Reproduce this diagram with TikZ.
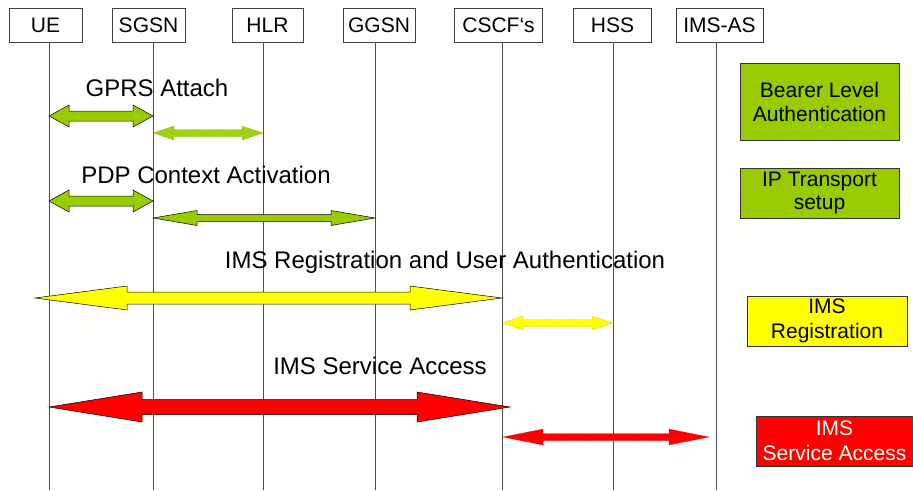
\documentclass[tikz,border=0pt]{standalone}
\usepackage{fontspec}
\setmainfont{Liberation Sans}
\usetikzlibrary{calc}
\definecolor{pgreen}{RGB}{153,204,0}
\definecolor{pgreenl}{RGB}{160,210,20}
\definecolor{pyellow}{RGB}{255,255,0}
\definecolor{pred}{RGB}{255,0,0}
\definecolor{lifegray}{RGB}{80,80,80}
% #1 style, #2 left end, #3 right end, #4 head length, #5 head half width, #6 shaft half width
\newcommand\blockarrow[6]{\path[#1] (#2) -- ($(#2)+(#4,-#5)$) -- ($(#2)+(#4,-#6)$) -- ($(#3)+(-#4,-#6)$) -- ($(#3)+(-#4,-#5)$) -- (#3) -- ($(#3)+(-#4,#5)$) -- ($(#3)+(-#4,#6)$) -- ($(#2)+(#4,#6)$) -- ($(#2)+(#4,#5)$) -- cycle;}
\tikzset{
  hbox/.style={draw=black!75, line width=0.6pt, fill=white, minimum height=34pt, inner sep=0pt},
  htxt/.style={inner sep=0pt, anchor=base, font=\fontsize{21}{24}\selectfont},
  life/.style={draw=lifegray, line width=0.8pt},
  lbl/.style={inner sep=0pt, anchor=base, font=\fontsize{24}{28}\selectfont},
  sbox/.style={draw=black!80, line width=0.6pt, inner sep=0pt, align=center, font=\fontsize{21}{24}\selectfont},
  solidarr/.style={draw=black, line width=0.5pt, line join=miter},
  dotarr/.style={line width=0.5pt, densely dotted},
}
\begin{document}
\begin{tikzpicture}[x=1pt,y=-1pt]
\useasboundingbox (0,0) rectangle (913,490);
% header boxes
\node[hbox, minimum width=73pt] (ue) at (45.5,25) {};
\node[hbox, minimum width=73pt] (sgsn) at (148.5,25) {};
\node[hbox, minimum width=71pt] (hlr) at (267.5,25) {};
\node[hbox, minimum width=72pt] (ggsn) at (379,25) {};
\node[hbox, minimum width=88pt] (cscf) at (498.5,25) {};
\node[hbox, minimum width=78pt] (hss) at (612.5,25) {};
\node[hbox, minimum width=87pt] (imsas) at (719.5,25) {};
% lifelines
\foreach \n/\x in {ue/49, sgsn/153, hlr/263, ggsn/375, cscf/502, hss/613, imsas/716}{
  \coordinate (\n T) at (\x,42);
  \coordinate (\n B) at (\x,490);
  \draw[life] (\n T) -- (\n B);
}
% header texts
\node[htxt] (ueL) at (45.5,32.5) {UE};
\node[htxt] (sgsnL) at (148.5,32.5) {SGSN};
\node[htxt] (hlrL) at (267.5,32.5) {HLR};
\node[htxt] (ggsnL) at (379,32.5) {GGSN};
\node[htxt] (cscfL) at (498.5,32.5) {CSCF‘s};
\node[htxt] (hssL) at (612.5,32.5) {HSS};
\node[htxt] (imsasL) at (719.5,32.5) {IMS-AS};
% arrow end points
\coordinate (g1a) at (49,116);  \coordinate (g1b) at (153,116);
\coordinate (g2a) at (153,133); \coordinate (g2b) at (263,133);
\coordinate (g3a) at (49,201);  \coordinate (g3b) at (153,201);
\coordinate (g4a) at (153,218); \coordinate (g4b) at (375,218);
\coordinate (y1a) at (35,298);  \coordinate (y1b) at (502,298);
\coordinate (y2a) at (502,323); \coordinate (y2b) at (613,323);
\coordinate (r1a) at (49,407);  \coordinate (r1b) at (510,407);
\coordinate (r2a) at (503,437); \coordinate (r2b) at (709,437);
% arrows
\blockarrow{solidarr, fill=pgreen}{g1a}{g1b}{20}{11}{5}
\blockarrow{dotarr, fill=pgreenl, draw=pgreen!80!black}{g2a}{g2b}{21}{7}{3.5}
\blockarrow{solidarr, fill=pgreen}{g3a}{g3b}{20}{11}{5}
\blockarrow{solidarr, fill=pgreen}{g4a}{g4b}{44}{7.5}{3.5}
\blockarrow{solidarr, fill=pyellow}{y1a}{y1b}{92}{12}{6}
\blockarrow{dotarr, fill=pyellow, draw=yellow!70!black}{y2a}{y2b}{21}{7}{3.5}
\blockarrow{solidarr, fill=pred}{r1a}{r1b}{93}{15}{7.5}
\blockarrow{dotarr, fill=pred, draw=red!80!black}{r2a}{r2b}{40}{8}{3.5}
% labels
\node[lbl] (gprs) at (157,96) {GPRS Attach};
\node[lbl] (pdp) at (206,183) {PDP Context Activation};
\node[lbl] (imsreg) at (445,268) {IMS Registration and User Authentication};
\node[lbl] (imssa) at (380,374) {IMS Service Access};
% side boxes
\node[sbox, fill=pgreen, minimum width=159pt, minimum height=77pt] (bla) at (819.5,101.5) {Bearer Level\\Authentication};
\node[sbox, fill=pgreen, minimum width=159pt, minimum height=50pt, font=\fontsize{21}{23}\selectfont] (ipt) at (819.5,193) {IP Transport\\setup};
\node[sbox, fill=pyellow, minimum width=160pt, minimum height=50pt, font=\fontsize{21}{25}\selectfont] (imsr) at (827,321) {IMS\\Registration};
\node[sbox, fill=pred, text=white, minimum width=157pt, minimum height=50pt, font=\fontsize{21}{25}\selectfont] (imsa) at (834.5,441) {IMS\\Service Access};
\end{tikzpicture}
\end{document}
